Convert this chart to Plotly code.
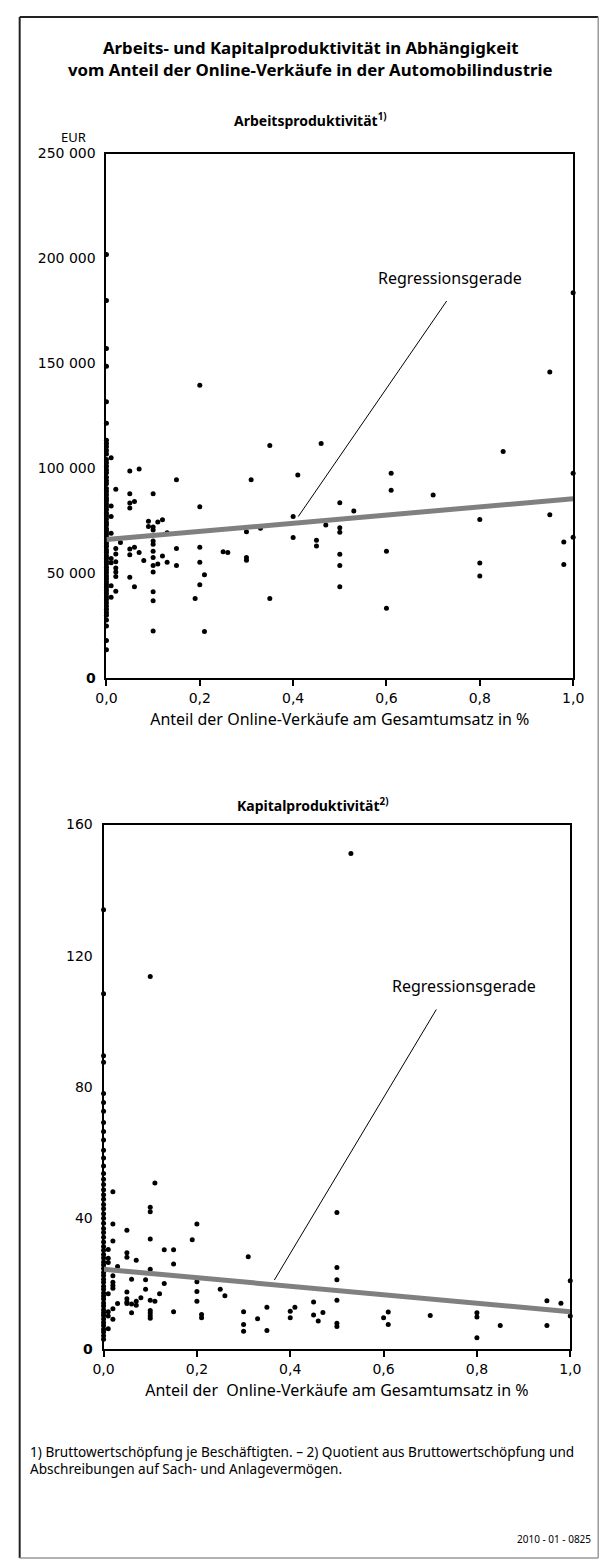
import plotly.graph_objects as go

W, H = 615, 1568

# ---------------- Data: Arbeitsproduktivität (EUR) ----------------
ap_x0_vals = [201900, 179900, 157100, 148600, 131700, 121500, 113300, 111800, 110200,
              108500, 106800, 104200, 102600, 100900, 99300, 97800, 95700, 94100,
              92600, 90300, 88900, 87400, 85800, 84600, 83100, 81700, 80200, 78500,
              77300, 75800, 74100, 72900, 71200, 70100, 68700, 67400, 65600, 64200,
              62800, 61100, 59900, 58300, 57100, 55600, 54400, 52800, 51500, 50200,
              48700, 47300, 45900, 44600, 43200, 41700, 40300, 38800, 37400, 35900,
              34300, 32800, 31200, 29900, 27700, 24800, 17900, 13500]

ap_x = [0.01, 0.01, 0.01, 0.01, 0.01, 0.01, 0.01, 0.01,
        0.02, 0.02, 0.02, 0.02, 0.02, 0.02, 0.02, 0.02,
        0.03,
        0.05, 0.05, 0.05, 0.05, 0.05, 0.05, 0.05,
        0.06, 0.06, 0.06,
        0.07, 0.07,
        0.08,
        0.09, 0.09,
        0.10, 0.10, 0.10, 0.10, 0.10, 0.10, 0.10, 0.10, 0.10, 0.10, 0.10, 0.10,
        0.11, 0.11,
        0.12, 0.12,
        0.13, 0.13,
        0.15, 0.15, 0.15,
        0.19,
        0.20, 0.20, 0.20, 0.20, 0.20,
        0.21, 0.21,
        0.25, 0.26,
        0.30, 0.30, 0.30,
        0.31,
        0.33,
        0.35, 0.35,
        0.40, 0.40,
        0.41,
        0.45, 0.45,
        0.46,
        0.47,
        0.50, 0.50, 0.50, 0.50, 0.50, 0.50,
        0.53,
        0.60, 0.60,
        0.61, 0.61,
        0.70,
        0.80, 0.80, 0.80,
        0.85,
        0.95, 0.95,
        0.98, 0.98,
        1.00, 1.00, 1.00]
ap_y = [105000, 82000, 77000, 69000, 57000, 55000, 44000, 38500,
        90000, 61800, 59100, 55500, 52500, 50500, 48400, 41400,
        64600,
        98700, 87900, 83500, 81000, 61500, 58800, 48100,
        84100, 62300, 43500,
        99700, 59900,
        56000,
        74700, 72200,
        87900, 72000, 70600, 65300, 63800, 60500, 57500, 53600, 50500, 41200, 36900, 22500,
        74400, 54400,
        75500, 58200,
        69300, 55200,
        94500, 61800, 53600,
        37900,
        139600, 81600, 62300, 55200, 44500,
        49300, 22200,
        60200, 59800,
        69800, 57500, 56100,
        94500,
        71400,
        110800, 37900,
        77000, 67000,
        96800,
        65700, 63000,
        111800,
        73000,
        83600, 71600, 69500, 59000, 53700, 43500,
        79600,
        60500, 33300,
        97600, 89500,
        87300,
        75600, 54900, 48700,
        108000,
        145900, 77800,
        64800, 54100,
        183600, 97600, 67100]

ap_reg_x = [0.0, 1.0]
ap_reg_y = [66000, 85500]
ap_lead_x = [0.411, 0.729]
ap_lead_y = [77000, 179700]
ap_label_pos = (0.736, 190600)

# ---------------- Data: Kapitalproduktivität ----------------
kp_x0_vals = [134.0, 108.4, 89.5, 87.5, 78.0, 75.2, 72.6, 69.1, 66.4, 63.8, 60.7, 58.3,
              55.9, 53.6, 51.8, 50.2, 48.6, 47.1, 45.7, 44.1, 42.8, 41.3, 39.9, 38.4,
              36.8, 35.6, 34.1, 32.7, 31.3, 30.2, 28.9, 27.8, 26.6, 25.7, 24.6, 23.4,
              22.5, 21.3, 20.4, 19.2, 18.3, 17.1, 16.2, 15.3, 14.1, 13.2, 12.0, 11.1,
              10.3, 9.2, 8.1, 7.2, 6.1, 5.2, 4.1, 3.0]

kp_x = [0.11, 0.02, 0.10, 0.10, 0.02, 0.20, 0.05, 0.02, 0.10, 0.19,
        0.01, 0.13, 0.15, 0.05, 0.05, 0.01, 0.01, 0.07, 0.31, 0.15,
        0.03, 0.10, 0.02, 0.06, 0.09, 0.20, 0.02, 0.02, 0.02, 0.13,
        0.09, 0.25, 0.05, 0.01, 0.12, 0.20, 0.26, 0.08, 0.05, 0.05,
        0.05, 0.10, 0.11, 0.20, 0.07, 0.07, 0.03, 0.06, 0.02, 0.01,
        0.01, 0.10, 0.10, 0.10, 0.10, 0.06, 0.15, 0.21, 0.21, 0.02,
        0.01, 0.30, 0.30, 0.30, 0.33, 0.35, 0.35, 0.40, 0.40, 0.41,
        0.45, 0.45, 0.46, 0.47,
        0.50, 0.50, 0.50, 0.50, 0.50, 0.50,
        0.60, 0.61, 0.61, 0.70, 0.80, 0.80, 0.80, 0.85,
        0.95, 0.95, 0.98, 1.00, 1.00,
        0.53, 0.10]
kp_y = [50.7, 48.0, 43.3, 41.9, 38.2, 38.2, 36.3, 33.0, 33.6, 33.4,
        30.4, 30.3, 30.3, 29.4, 28.0, 27.7, 26.4, 27.1, 28.2, 26.0,
        25.2, 24.4, 22.4, 21.3, 21.2, 20.6, 20.4, 19.4, 18.6, 20.0,
        18.3, 18.3, 17.4, 16.9, 16.9, 17.6, 16.3, 15.7, 15.4, 14.4,
        13.9, 14.9, 14.6, 14.6, 14.6, 13.4, 13.9, 13.8, 12.3, 11.4,
        10.1, 11.8, 11.0, 10.2, 9.4, 11.1, 11.4, 10.6, 9.6, 9.1,
        6.2, 11.4, 7.5, 5.5, 9.3, 12.8, 5.7, 11.6, 9.6, 12.8,
        14.4, 10.4, 8.6, 11.2,
        41.7, 24.9, 21.2, 14.9, 7.9, 6.9,
        9.6, 11.3, 7.5, 10.3, 11.1, 9.8, 3.5, 7.2,
        14.8, 7.2, 14.0, 20.9, 10.1,
        151.2, 113.7]

kp_reg_x = [0.0, 1.0]
kp_reg_y = [24.4, 11.4]
kp_lead_x = [0.366, 0.713]
kp_lead_y = [21.1, 103.6]
kp_label_pos = (0.773, 110.8)

x_tickvals = [0.0, 0.2, 0.4, 0.6, 0.8, 1.0]
x_ticktext = ["0,0", "0,2", "0,4", "0,6", "0,8", "1,0"]
ap_tickvals = [0, 50000, 100000, 150000, 200000, 250000]
ap_ticktext = ["<b>0</b>", "50 000", "100 000", "150 000", "200 000", "250 000"]
kp_tickvals = [0, 40, 80, 120, 160]
kp_ticktext = ["<b>0</b>", "40", "80", "120", "160"]

TXT = "Noto Sans"
TICK = "DejaVu Sans"

fig = go.Figure()

def add_panel(xs0, ys, xs, xa, ya, regx, regy, leadx, leady):
    fig.add_trace(go.Scatter(x=[0.0] * len(xs0), y=xs0, mode="markers",
                             marker=dict(color="black", size=5),
                             xaxis=xa, yaxis=ya, cliponaxis=False, showlegend=False))
    fig.add_trace(go.Scatter(x=xs, y=ys, mode="markers",
                             marker=dict(color="black", size=5),
                             xaxis=xa, yaxis=ya, cliponaxis=False, showlegend=False))
    fig.add_trace(go.Scatter(x=regx, y=regy, mode="lines",
                             line=dict(color="#808080", width=5),
                             xaxis=xa, yaxis=ya, showlegend=False))
    fig.add_trace(go.Scatter(x=leadx, y=leady, mode="lines",
                             line=dict(color="black", width=1),
                             xaxis=xa, yaxis=ya, showlegend=False))

add_panel(ap_x0_vals, ap_y, ap_x, "x", "y", ap_reg_x, ap_reg_y, ap_lead_x, ap_lead_y)
add_panel(kp_x0_vals, kp_y, kp_x, "x2", "y2", kp_reg_x, kp_reg_y, kp_lead_x, kp_lead_y)

def py(p):
    return 1 - p / H

axis_common = dict(showgrid=False, zeroline=False, showline=True, linecolor="black",
                   linewidth=2, mirror=True, tickfont=dict(family=TICK, size=14, color="black"))

fig.update_layout(
    width=W, height=H, margin=dict(l=0, r=0, t=0, b=0),
    paper_bgcolor="white", plot_bgcolor="white",
    xaxis=dict(domain=[99 / W, 583 / W], range=[0, 1], anchor="y",
               tickvals=x_tickvals, ticktext=x_ticktext, ticks="outside",
               ticklen=6, tickwidth=1.5, tickcolor="black",
               title=dict(text="Anteil der Online-Verkäufe am Gesamtumsatz in %",
                          font=dict(family=TXT, size=16, color="black"), standoff=9),
               **axis_common),
    yaxis=dict(domain=[py(677), py(147)], range=[0, 250000], anchor="x",
               tickvals=ap_tickvals, ticktext=ap_ticktext, ticks="", ticklabelstandoff=6,
               **axis_common),
    xaxis2=dict(domain=[96 / W, 580 / W], range=[0, 1], anchor="y2",
                tickvals=x_tickvals, ticktext=x_ticktext, ticks="outside",
                ticklen=6, tickwidth=1.5, tickcolor="black",
                title=dict(text="Anteil der  Online-Verkäufe am Gesamtumsatz in %",
                           font=dict(family=TXT, size=16, color="black"), standoff=9),
                **axis_common),
    yaxis2=dict(domain=[py(1355), py(825)], range=[0, 160], anchor="x2",
                tickvals=kp_tickvals, ticktext=kp_ticktext, ticks="", ticklabelstandoff=6,
                **axis_common),
)

ann = []
def text(x, y, s, size, bold=False, xanchor="center", family=TXT):
    ann.append(dict(x=x, y=py(y), xref="paper", yref="paper", text=(f"<b>{s}</b>" if bold else s),
                    showarrow=False, xanchor=xanchor, yanchor="middle",
                    font=dict(family=family, size=size, color="black")))

text(311 / W, 40, "Arbeits- und Kapitalproduktivität in Abhängigkeit", 16.8, bold=True)
text(311 / W, 62, "vom Anteil der Online-Verkäufe in der Automobilindustrie", 16.8, bold=True)
text(311 / W, 113, "Arbeitsproduktivität<sup>1)</sup>", 14, bold=True)
text(313 / W, 805, "Kapitalproduktivität<sup>2)</sup>", 14, bold=True)
text(50 / W, 130, "EUR", 13, xanchor="left")
text(18 / W, 1458, "1) Bruttowertschöpfung je Beschäftigten. – 2) Quotient aus Bruttowertschöpfung und", 13.6, xanchor="left")
text(18 / W, 1476, "Abschreibungen auf Sach- und Anlagevermögen.", 13.6, xanchor="left")
text(604 / W, 1547, "2010 - 01 - 0825", 10, xanchor="right")

ann.append(dict(x=ap_label_pos[0], y=ap_label_pos[1], xref="x", yref="y", text="Regressionsgerade",
                showarrow=False, font=dict(family=TXT, size=16, color="black")))
ann.append(dict(x=kp_label_pos[0], y=kp_label_pos[1], xref="x2", yref="y2", text="Regressionsgerade",
                showarrow=False, font=dict(family=TXT, size=16, color="black")))
fig.update_layout(annotations=ann)

shapes = [
    dict(type="line", xref="paper", yref="paper", x0=9 / W, x1=9 / W, y0=py(9), y1=py(1566),
         line=dict(color="#222", width=2)),
    dict(type="line", xref="paper", yref="paper", x0=9 / W, x1=609 / W, y0=py(9), y1=py(9),
         line=dict(color="#222", width=2)),
    dict(type="line", xref="paper", yref="paper", x0=609 / W, x1=609 / W, y0=py(9), y1=py(1566),
         line=dict(color="#999", width=1.5)),
    dict(type="line", xref="paper", yref="paper", x0=9 / W, x1=609 / W, y0=py(1566), y1=py(1566),
         line=dict(color="#999", width=1.5)),
]
fig.update_layout(shapes=shapes)

fig.write_html("out.html")
